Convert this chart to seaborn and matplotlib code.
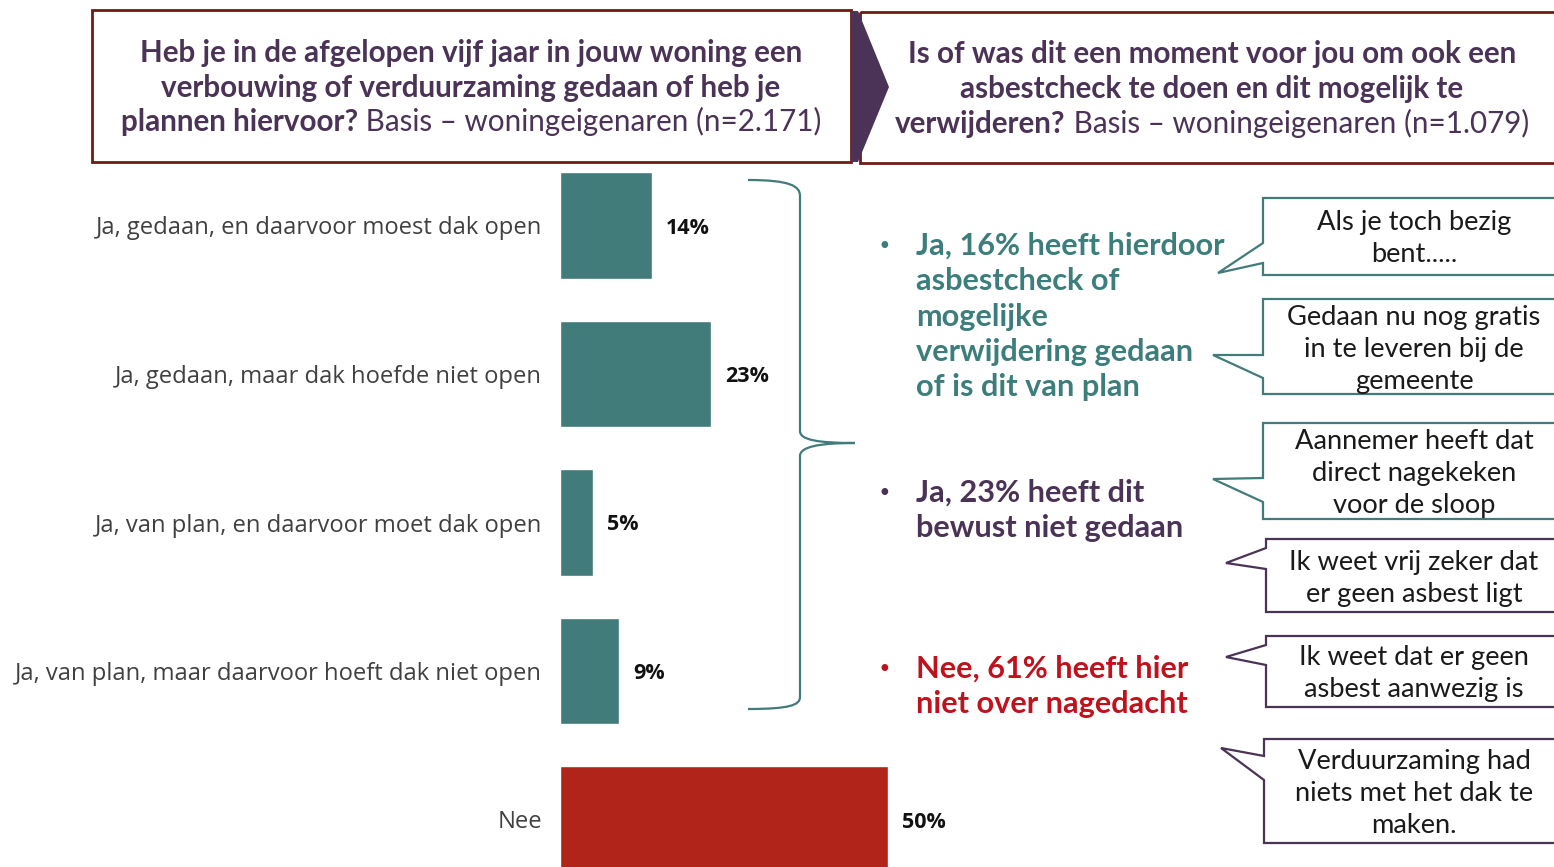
import numpy as np
import pandas as pd
import matplotlib
matplotlib.use("Agg")
import matplotlib.pyplot as plt
import seaborn as sns
from matplotlib.patches import Rectangle, Polygon, PathPatch
from matplotlib.path import Path

# ---------------- data ----------------
categories = ["Ja, gedaan, en daarvoor moest dak open",
              "Ja, gedaan, maar dak hoefde niet open",
              "Ja, van plan, en daarvoor moet dak open",
              "Ja, van plan, maar daarvoor hoeft dak niet open",
              "Nee"]
values = [14, 23, 5, 9, 50]

left_title = [[("Heb je in de afgelopen vijf jaar in jouw woning een", "bold")],
              [("verbouwing of verduurzaming gedaan of heb je", "bold")],
              [("plannen hiervoor?", "bold"), (" Basis – woningeigenaren (n=2.171)", "normal")]]
right_title = [[("Is of was dit een moment voor jou om ook een", "bold")],
               [("asbestcheck te doen en dit mogelijk te", "bold")],
               [("verwijderen?", "bold"), (" Basis – woningeigenaren (n=1.079)", "normal")]]

bullet_teal = ["Ja, 16% heeft hierdoor", "asbestcheck of", "mogelijke",
               "verwijdering gedaan", "of is dit van plan"]
bullet_purple = ["Ja, 23% heeft dit", "bewust niet gedaan"]
bullet_red = ["Nee, 61% heeft hier", "niet over nagedacht"]

quotes_teal = [["Als je toch bezig", "bent....."],
               ["Gedaan nu nog gratis", "in te leveren bij de", "gemeente"],
               ["Aannemer heeft dat", "direct nagekeken", "voor de sloop"]]
quotes_purple = [["Ik weet vrij zeker dat", "er geen asbest ligt"],
                 ["Ik weet dat er geen", "asbest aanwezig is"],
                 ["Verduurzaming had", "niets met het dak te", "maken."]]

# ---------------- style ----------------
TEAL = "#417b7a"
TEAL_TXT = "#3b7e7b"
RED = "#b0241a"
RED_TXT = "#c0121c"
PURPLE = "#4b3257"
MAROON = "#6b1d16"
GREY = "#404040"
HEAD_FONT = "Lato"
LABEL_FONT = "Open Sans"

sns.set_theme(style="white")
plt.rcParams['font.family'] = ['Open Sans', 'DejaVu Sans']

W, H = 1554, 867
fig = plt.figure(figsize=(W / 100, H / 100), dpi=100)
fig.patch.set_facecolor("white")

# overlay axes in pixel coordinates
ov = fig.add_axes([0, 0, 1, 1], zorder=5)
ov.set_xlim(0, W)
ov.set_ylim(H, 0)
ov.axis("off")

R = fig.canvas.get_renderer()


def text_w(s, size, weight, family):
    t = ov.text(0, 0, s, fontsize=size, fontweight=weight, family=family)
    w = t.get_window_extent(R).width
    t.remove()
    return w


def fit(s, target, weight, family, base=20.0):
    return base * target / text_w(s, base, weight, family)


def draw_line(x, y, segs, size, color, family, ha="center"):
    ws = [text_w(s, size, w, family) for s, w in segs]
    x0 = x - sum(ws) / 2 if ha == "center" else x
    for (s, w), wd in zip(segs, ws):
        ov.text(x0, y, s, fontsize=size, fontweight=w, family=family,
                color=color, va="baseline", ha="left")
        x0 += wd


# ---------------- bar chart ----------------
bar_left, bar_right = 560, 1000
top_px, bot_px = 150, 867
axb = fig.add_axes([bar_left / W, 1 - bot_px / H, (bar_right - bar_left) / W,
                    (bot_px - top_px) / H], zorder=1)
df = pd.DataFrame({"cat": categories, "val": values})
palette = {c: TEAL for c in categories}
palette[categories[-1]] = RED
sns.barplot(data=df, x="val", y="cat", hue="cat", palette=palette, legend=False,
            width=0.72, orient="h", saturation=1, ax=axb)
px_per_unit = 6.56
axb.set_xlim(0, (bar_right - bar_left) / px_per_unit)
c0, step = 225.5, 148.5
axb.set_ylim((bot_px - c0) / step, (top_px - c0) / step)
for s in axb.spines.values():
    s.set_visible(False)
axb.set_xlabel("")
axb.set_ylabel("")
axb.set_xticks([])
cat_size = fit(categories[3], 526, "normal", LABEL_FONT)
axb.tick_params(axis="y", length=0, pad=12.9, labelsize=cat_size, labelcolor=GREY)
for lab in axb.get_yticklabels():
    lab.set_family(LABEL_FONT)
val_size = fit("23%", 44, "bold", LABEL_FONT)
for cont in axb.containers:
    labs = axb.bar_label(cont, labels=[f"{int(v)}%" for v in cont.datavalues], padding=10,
                         fontsize=val_size, fontweight="bold", color="#111111",
                         family=LABEL_FONT)
    for t in labs:
        t.set_va("center_baseline")

# ---------------- header boxes ----------------
ov.add_patch(Rectangle((92, 10), 851 - 92, 152, fill=False, ec=MAROON, lw=2))
ov.add_patch(Rectangle((860, 12), 1570 - 860, 151, fill=False, ec=MAROON, lw=2))
ov.add_patch(Polygon([(851, 11), (858, 11), (889, 87), (858, 162), (851, 162)],
                     closed=True, fc=PURPLE, ec="none"))

head_size = fit(left_title[0][0][0], 663, "bold", HEAD_FONT)
for segs, yb in zip(left_title, [62, 97, 131]):
    draw_line(471, yb, segs, head_size, PURPLE, HEAD_FONT)
for segs, yb in zip(right_title, [63, 98, 133]):
    draw_line(1212, yb, segs, head_size, PURPLE, HEAD_FONT)

# ---------------- brace ----------------
verts = [(748, 180), (790, 180), (800, 186), (800, 196),
         (800, 431), (800, 440), (818, 443), (855, 443),
         (818, 443), (800, 447), (800, 456),
         (800, 697), (800, 705), (790, 709), (748, 709)]
codes = [Path.MOVETO, Path.CURVE4, Path.CURVE4, Path.CURVE4,
         Path.LINETO, Path.CURVE4, Path.CURVE4, Path.CURVE4,
         Path.CURVE4, Path.CURVE4, Path.CURVE4,
         Path.LINETO, Path.CURVE4, Path.CURVE4, Path.CURVE4]
ov.add_patch(PathPatch(Path(verts, codes), fill=False, ec=TEAL, lw=1.6))

# ---------------- bullets ----------------
bul_size = fit("verwijdering gedaan", 278, "bold", HEAD_FONT)
for lines, baselines, col in [(bullet_teal, [255, 290, 326, 361, 396], TEAL_TXT),
                              (bullet_purple, [502, 537], PURPLE),
                              (bullet_red, [678, 713], RED_TXT)]:
    ov.text(884, baselines[0] - 2, "•", fontsize=bul_size * 0.75, color=col,
            ha="center", va="baseline", family="DejaVu Sans")
    for s, yb in zip(lines, baselines):
        ov.text(916, yb, s, fontsize=bul_size, fontweight="bold", family=HEAD_FONT,
                color=col, ha="left", va="baseline")

# ---------------- callouts ----------------
q_size = fit("Gedaan nu nog gratis", 254, "normal", HEAD_FONT)
# (left, top, bottom, y_upper, tip_x, tip_y, y_lower, baselines)
teal_geo = [(1263, 198, 275, 243, 1218, 273, 263, [230, 262]),
            (1263, 299, 394, 355, 1213, 355, 378, [325, 357, 389]),
            (1263, 423, 519, 478, 1213, 479, 502, [449, 481, 513])]
purple_geo = [(1266, 539, 612, 548, 1226, 563, 569, [570, 602]),
              (1266, 636, 707, 645, 1226, 657, 665, [665, 697]),
              (1264, 739, 843, 756, 1221, 748, 780, [769, 801, 833])]
for quotes, geos, col in [(quotes_teal, teal_geo, TEAL), (quotes_purple, purple_geo, PURPLE)]:
    for lines, (L, T, B, y1, tx, ty, y2, bls) in zip(quotes, geos):
        ov.add_patch(Polygon([(L, T), (1575, T), (1575, B), (L, B), (L, y2), (tx, ty), (L, y1)],
                             closed=True, fc="white", ec=col, lw=1.6))
        for s, yb in zip(lines, bls):
            ov.text(1414, yb, s, fontsize=q_size, family=HEAD_FONT, color="#1a1a1a",
                    ha="center", va="baseline")

fig.savefig("out.png", dpi=100, facecolor="white")
